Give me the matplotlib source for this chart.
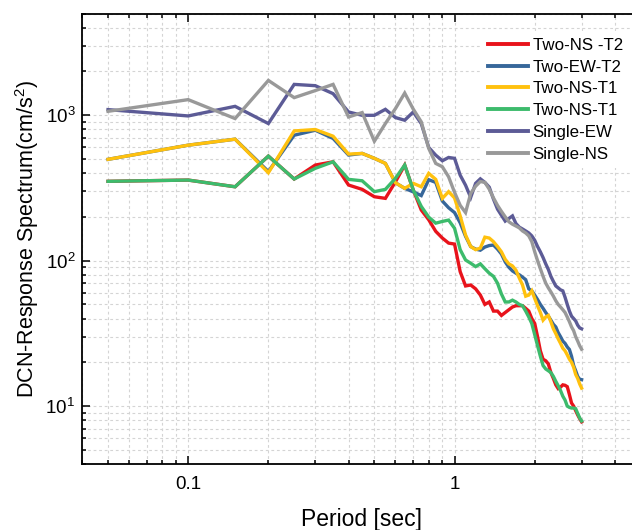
import matplotlib
matplotlib.use("Agg")
import matplotlib.pyplot as plt
from matplotlib.ticker import FixedLocator, NullFormatter, LogLocator, FixedFormatter

plt.rcParams['font.family'] = ['Liberation Sans', 'DejaVu Sans']
plt.rcParams['mathtext.fontset'] = 'custom'
plt.rcParams['mathtext.rm'] = 'Liberation Sans'
plt.rcParams['mathtext.it'] = 'Liberation Sans:italic'
plt.rcParams['mathtext.bf'] = 'Liberation Sans:bold'

periods = [0.05, 0.1, 0.15, 0.2, 0.25, 0.3, 0.35, 0.4, 0.45, 0.5, 0.55, 0.6, 0.65, 0.7, 0.75, 0.8, 0.85, 0.9, 0.95,
           1.0, 1.05, 1.1, 1.15, 1.2, 1.25, 1.3, 1.35, 1.4, 1.45,
           1.5, 1.55, 1.6, 1.65, 1.7, 1.75, 1.8, 1.85, 1.9, 1.95,
           2.0, 2.05, 2.1, 2.15, 2.2, 2.25, 2.3, 2.35, 2.4, 2.45,
           2.5, 2.55, 2.6, 2.65, 2.7, 2.75, 2.8, 2.85, 2.9, 2.95, 3.0]

two_ns_t2 = [351, 358, 322, 523, 364, 454, 478, 331, 309, 275, 268, 348, 454, 306, 223, 191, 159, 143, 132,
             130, 84, 67, 68, 64, 58, 50, 52, 45, 45,
             42, 44, 46, 48, 49, 49, 49, 47, 45, 40,
             37, 30, 24, 21, 20.5, 19.5, 17, 15.5, 14, 13.2,
             13.5, 14, 13.9, 13.6, 12, 10.5, 10, 9.3, 8.7, 8.2, 7.8]

two_ew_t2 = [497, 622, 684, 410, 728, 788, 692, 532, 546, 505, 466, 343, 314, 297, 280, 360, 345, 257, 231,
             214, 182, 147, 125, 120, 118, 124, 127, 128, 120,
             111, 98, 90, 85, 82, 80, 77, 74, 64, 62,
             58, 54, 50, 47, 44, 41.5, 39, 36.5, 35, 32,
             30, 28, 27, 25.5, 24.5, 22, 19, 17.5, 16, 15.3, 15.2]

two_ns_t1_a = [497, 622, 684, 402, 779, 797, 717, 540, 546, 505, 466, 343, 314, 340, 322, 398, 362, 268, 298,
               270, 203, 150, 125, 119, 122, 145, 143, 135, 125,
               115, 102, 95, 92, 86, 76, 68, 57, 58, 62,
               55, 49, 44, 39, 41, 42, 38, 34, 31.5, 29,
               27, 25, 24, 22.5, 21, 20, 18.5, 16.5, 15.5, 14.2, 13.3]

two_ns_t1_b = [351, 358, 322, 523, 364, 431, 478, 362, 354, 298, 309, 368, 454, 306, 236, 199, 181, 186, 190,
               167, 119, 101, 96, 91, 95, 88, 82, 78, 70,
               59, 52, 52, 53.5, 52, 50, 49, 45, 41, 37,
               31, 26, 22, 19, 18, 17.5, 17, 16, 14.8, 13.8,
               12.8, 11.7, 11, 10, 9.8, 9.7, 9.7, 9.6, 8.9, 8.3, 7.9]

single_ew = [1092, 988, 1150, 876, 1628, 1595, 1406, 1052, 998, 998, 1097, 963, 923, 1052, 876, 600, 531, 486, 512,
             505, 387, 330, 272, 340, 365, 345, 320, 265, 226,
             205, 187, 195, 203, 180, 170, 165, 160, 155, 148,
             138, 125, 115, 105, 95, 87, 78, 72, 67, 65,
             63, 62, 56, 50, 45, 41.5, 40, 38.5, 36, 34.5, 34]

single_ns = [1063, 1279, 948, 1733, 1320, 1476, 1628, 972, 1042, 662, 876, 1110, 1419, 1100, 900, 591, 466, 442, 377,
             295, 240, 214, 290, 325, 350, 345, 310, 270, 240,
             218, 200, 185, 178, 173, 168, 160, 155, 148, 135,
             115, 100, 88, 78, 70, 65, 61, 57, 53, 50,
             48, 46, 44, 41, 38, 35, 33, 30, 28, 26, 24.6]

series = [
    ("Two-NS -T2", two_ns_t2, "#E8131B"),
    ("Two-EW-T2", two_ew_t2, "#37679A"),
    ("Two-NS-T1", two_ns_t1_a, "#FFC10E"),
    ("Two-NS-T1", two_ns_t1_b, "#3DBB6C"),
    ("Single-EW", single_ew, "#5C5B96"),
    ("Single-NS", single_ns, "#999999"),
]

W, H = 632, 530
fig = plt.figure(figsize=(W / 100, H / 100), dpi=100)
left, right, top, bottom = 82.2, 640.7, 13.5, 464.0
ax = fig.add_axes([left / W, 1 - bottom / H, (right - left) / W, (bottom - top) / H])

for name, vals, col in series:
    ax.plot(periods, vals, color=col, lw=2.4, label=name, solid_joinstyle='miter')

ax.set_xscale('log')
ax.set_yscale('log')
ax.set_xlim(0.04, 5)
ax.set_ylim(4, 5000)

ax.xaxis.set_major_locator(FixedLocator([0.1, 1]))
ax.xaxis.set_major_formatter(FixedFormatter(['0.1', '1']))
ax.xaxis.set_minor_locator(LogLocator(base=10, subs=[2, 3, 4, 5, 6, 7, 8, 9], numticks=20))
ax.xaxis.set_minor_formatter(NullFormatter())
ax.yaxis.set_major_locator(FixedLocator([10, 100, 1000]))
ax.yaxis.set_major_formatter(FixedFormatter([r'$10^1$', r'$10^2$', r'$10^3$']))
ax.yaxis.set_minor_locator(LogLocator(base=10, subs=[2, 3, 4, 5, 6, 7, 8, 9], numticks=20))
ax.yaxis.set_minor_formatter(NullFormatter())

ax.grid(True, which='both', color='#d4d4d4', lw=0.8, ls=(0, (2.5, 2.5)))
ax.set_axisbelow(True)

ax.tick_params(which='both', direction='in', top=True, right=True, width=1.1, colors='black')
ax.tick_params(which='major', length=5.5)
ax.tick_params(which='minor', length=2.8)
ax.tick_params(axis='x', which='major', labelsize=13.5, pad=8.5)
ax.tick_params(axis='y', which='major', labelsize=13.5, pad=5)
for s in ax.spines.values():
    s.set_linewidth(1.3)

ax.set_xlabel('Period [sec]', fontsize=16.5, labelpad=11)
ax.set_ylabel(r'DCN-Response Spectrum(cm/s$^2$)', fontsize=15.5, labelpad=3.5)

leg = ax.legend(loc='upper left', bbox_to_anchor=(481.0 / W, 1 - 31.0 / H), bbox_transform=fig.transFigure,
                fontsize=12.2, frameon=True, fancybox=False, edgecolor='none', facecolor='white', framealpha=1,
                borderaxespad=0, borderpad=0.4, handlelength=2.4, handletextpad=0.25, labelspacing=0.4)
for l in leg.get_lines():
    l.set_linewidth(2.8)

fig.savefig('out.png', dpi=100)
